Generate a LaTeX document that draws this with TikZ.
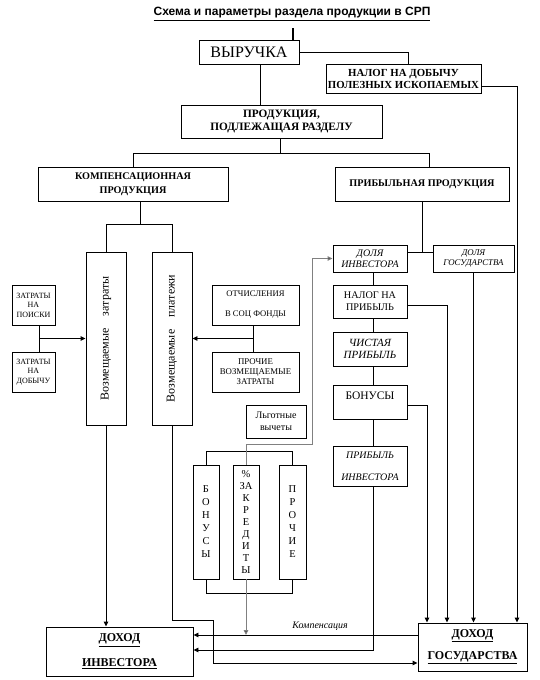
\documentclass[tikz,border=0pt]{standalone}
\usepackage{fontspec}
\setmainfont{Liberation Serif}
\newfontfamily\titlefont{Liberation Sans}
\usetikzlibrary{arrows.meta,calc}
\begin{document}
\begin{tikzpicture}[x=1pt,y=-1pt,
  box/.style={draw,line width=0.9pt,inner sep=0pt,align=center},
  ln/.style={line width=0.9pt},
  arr/.style={line width=0.9pt,-{Triangle[length=5pt,width=4.5pt]}},
  garr/.style={line width=0.9pt,draw=black!50,-{Triangle[length=5pt,width=4.5pt,fill=black!70]}}
]
\useasboundingbox (0,0) rectangle (540,680);

% title
\node[font=\titlefont\bfseries\fontsize{12}{14}\selectfont] (title) at (292,14) {\underline{Схема и параметры раздела продукции в СРП}};
\draw[line width=1.3pt] (293,28) -- (293,40);

% top boxes
\node[box,minimum width=100pt,minimum height=24pt,font=\fontsize{16}{18}\selectfont] (vyr) at (249,52) {ВЫРУЧКА};
\node[box,minimum width=155pt,minimum height=29pt,font=\bfseries\fontsize{10.8}{12}\selectfont] (nalog) at (403.5,78.5) {НАЛОГ НА ДОБЫЧУ\\ПОЛЕЗНЫХ ИСКОПАЕМЫХ};
\node[box,minimum width=201pt,minimum height=33pt,font=\bfseries\fontsize{11.3}{13}\selectfont] (prod) at (281.5,121.5) {ПРОДУКЦИЯ,\\ПОДЛЕЖАЩАЯ РАЗДЕЛУ};
\node[box,minimum width=190pt,minimum height=34pt,font=\bfseries\fontsize{10.2}{14}\selectfont] (komp) at (133,184) {КОМПЕНСАЦИОННАЯ\\ПРОДУКЦИЯ};
\node[box,minimum width=174pt,minimum height=34pt,font=\bfseries\fontsize{10.2}{12}\selectfont] (prib) at (422,184) {ПРИБЫЛЬНАЯ ПРОДУКЦИЯ};

% left tall boxes
\node[box,minimum width=40pt,minimum height=173pt] (vz) at (106,338.5) {};
\node[rotate=90,font=\fontsize{12}{14}\selectfont] (vzt) at (vz) {Возмещаемые\hspace{12pt}затраты};
\node[box,minimum width=40pt,minimum height=173pt] (vp) at (172,338.5) {};
\node[rotate=90,font=\fontsize{12}{14}\selectfont] (vpt) at (vp) {Возмещаемые\hspace{12pt}платежи};

\node[box,minimum width=43pt,minimum height=40pt,font=\fontsize{8}{9.5}\selectfont] (zp) at (33.5,305) {ЗАТРАТЫ\\НА\\ПОИСКИ};
\node[box,minimum width=43pt,minimum height=40pt,font=\fontsize{8}{9.5}\selectfont] (zd) at (33.5,372) {ЗАТРАТЫ\\НА\\ДОБЫЧУ};
\node[box,minimum width=87pt,minimum height=40pt,font=\fontsize{8.6}{20}\selectfont] (ot) at (255.5,305) {ОТЧИСЛЕНИЯ\\В СОЦ ФОНДЫ};
\node[box,minimum width=87pt,minimum height=40pt,font=\fontsize{8.8}{10}\selectfont] (pr) at (255.5,372) {ПРОЧИЕ\\ВОЗМЕЩАЕМЫЕ\\ЗАТРАТЫ};
\node[box,minimum width=60pt,minimum height=33pt,font=\fontsize{10}{11.5}\selectfont] (lv) at (276,421.5) {Льготные\\вычеты};

\node[box,minimum width=26pt,minimum height=114pt,font=\fontsize{10.5}{13}\selectfont] (b1) at (206,522) {Б\\О\\Н\\У\\С\\Ы};
\node[box,minimum width=26pt,minimum height=114pt,font=\fontsize{10.5}{12}\selectfont] (b2) at (246,522) {\%\\ЗА\\К\\Р\\Е\\Д\\И\\Т\\Ы};
\node[box,minimum width=27pt,minimum height=114pt,font=\fontsize{10.5}{13}\selectfont] (b3) at (292.5,522) {П\\Р\\О\\Ч\\И\\Е};

% right column
\node[box,minimum width=74pt,minimum height=27pt,font=\itshape\fontsize{10}{11}\selectfont] (di) at (370,258.5) {ДОЛЯ\\ИНВЕСТОРА};
\node[box,minimum width=81pt,minimum height=27pt,font=\itshape\fontsize{8.8}{10}\selectfont] (dg) at (473.5,258.5) {ДОЛЯ\\ГОСУДАРСТВА};
\node[box,minimum width=74pt,minimum height=33pt,font=\fontsize{10.2}{12}\selectfont] (np) at (370,301.5) {НАЛОГ НА\\ПРИБЫЛЬ};
\node[box,minimum width=74pt,minimum height=34pt,font=\itshape\fontsize{11}{12}\selectfont] (cp) at (370,349) {ЧИСТАЯ\\ПРИБЫЛЬ};
\node[box,minimum width=74pt,minimum height=34pt,text depth=12pt,font=\fontsize{11.5}{12}\selectfont] (bn) at (370,402) {БОНУСЫ};
\node[box,minimum width=74pt,minimum height=40pt,font=\itshape\fontsize{10}{22}\selectfont] (pi) at (370,466) {ПРИБЫЛЬ\\ИНВЕСТОРА};

% bottom
\node[box,minimum width=147pt,minimum height=49pt,font=\bfseries\fontsize{12}{25}\selectfont] (dI) at (119.5,651.5) {\underline{ДОХОД}\\\underline{ИНВЕСТОРА}};
\node[box,minimum width=109pt,minimum height=48pt,font=\bfseries\fontsize{12}{22}\selectfont] (dG) at (472.5,647) {\underline{ДОХОД}\\\underline{ГОСУДАРСТВА}};
\node[font=\itshape\fontsize{10}{11}\selectfont] (komplbl) at (320,626) {Компенсация};

% connectors top
\draw[ln] (vyr.east) -| ($(nalog.north)+(4.5,0)$);
\draw[arr] ($(nalog.east)+(0,7.5)$) -| ($(dG.north)+(44.5,0)$);
\draw[ln] ($(vyr.south)+(11.5,0)$) coordinate (a1) -- (a1 |- prod.north);
\draw[ln] ($(prod.south)+(-1.5,0)$) -- ++(0,15) coordinate (h1);
\draw[ln] (komp.north) |- (h1) -| ($(prib.north)+(7,0)$);
\draw[ln] ($(komp.south)+(7,0)$) -- ++(0,23) coordinate (h2);
\draw[ln] (vz.north) |- (h2) -| (vp.north);

% side boxes
\draw[ln] ($(zp.south)+(5.5,0)$) -- ($(zd.north)+(5.5,0)$);
\coordinate (jl) at ($(zp.south)!0.5!(zd.north)+(5.5,0)$);
\draw[arr] (jl) -- (jl -| vz.west);
\draw[ln] ($(ot.south)+(-2.5,0)$) -- ($(pr.north)+(-2.5,0)$);
\coordinate (jr) at ($(ot.south)!0.5!(pr.north)+(-2.5,0)$);
\draw[arr] (jr) -- (jr -| vp.east);

% brackets of small boxes
\draw[ln] (b1.north) -- ++(0,-13) -| (b3.north);
\draw[ln] (b1.south) -- ++(0,14) -| (b3.south);

% gray line
\coordinate (kc) at ($(dG.west)+(0,-12)$);
\draw[garr] (b2.north) -- ++(0,-20) -| ($(di.west)+(-20,0)$) -- (di.west);
\draw[garr] (b2.south) -- (b2.south |- kc);

% right column connectors
\draw[ln] ($(di.east)+(0,-6.5)$) -- ($(dg.west)+(0,-6.5)$);
\draw[ln] (prib.south) -- ++(0,51);
\draw[ln] ($(di.south)+(3,0)$) -- ($(np.north)+(3,0)$);
\draw[ln] ($(np.south)+(3,0)$) -- ($(cp.north)+(3,0)$);
\draw[ln] ($(cp.south)+(3,0)$) -- ($(bn.north)+(3,0)$);
\draw[ln] ($(bn.south)+(3,0)$) -- ($(pi.north)+(3,0)$);
\draw[arr] ($(pi.south)+(3,0)$) |- ($(dI.east)+(0,-1.5)$);
\draw[arr] ($(np.east)+(0,3.5)$) -| ($(dG.north)+(-25.5,0)$);
\draw[arr] ($(bn.east)+(0,3)$) -| ($(dG.north)+(-45.5,0)$);
\draw[arr] (dg.south) -- (dg.south |- dG.north);

% bottom connectors
\draw[arr] (vz.south) -- (vz.south |- dI.north);
\coordinate (kv) at ($(dG.west)+(0,16)$);
\draw[arr] (vp.south) -- ++(0,195) -- ++(41,0) |- (kv);
\draw[arr] (kc) -- (kc -| dI.east);
\end{tikzpicture}
\end{document}
